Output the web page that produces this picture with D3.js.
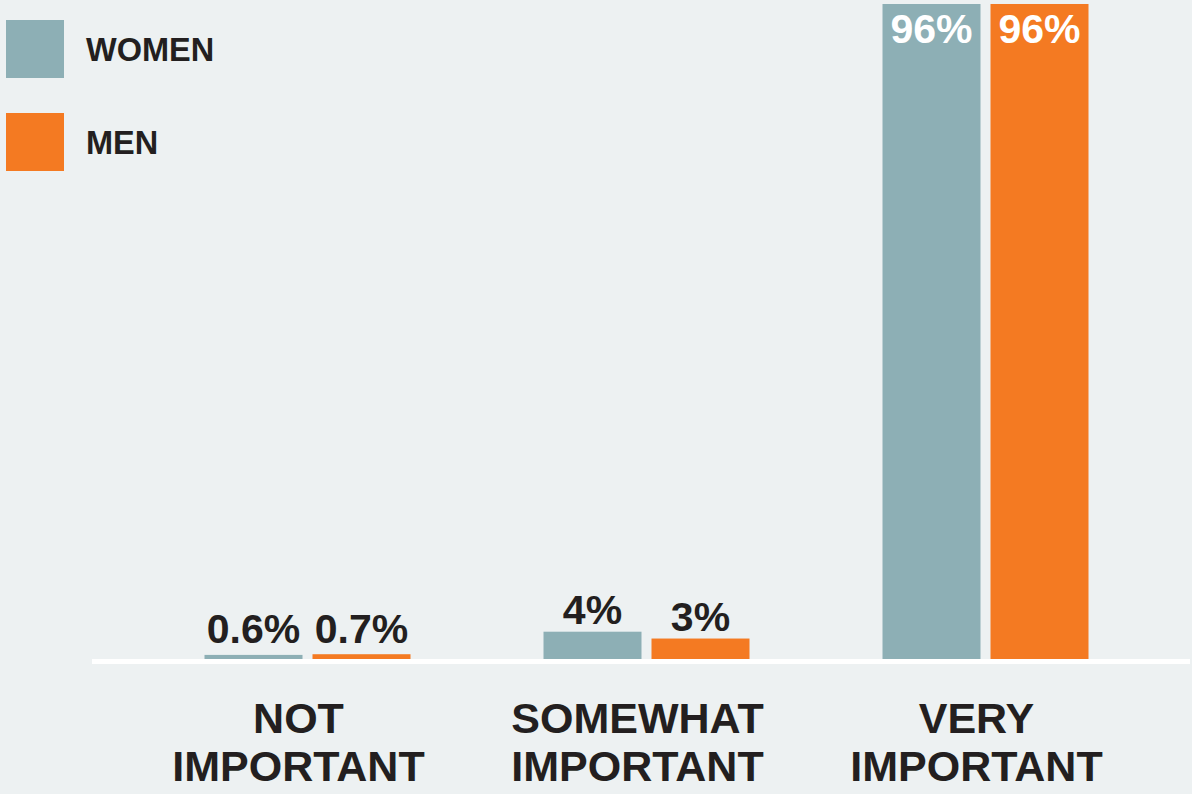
<!DOCTYPE html>
<html>
<head>
<meta charset="utf-8">
<script src="https://cdn.jsdelivr.net/npm/d3@7"></script>
<style>
  html, body { margin: 0; padding: 0; background: #EDF1F2; }
  svg { display: block; }
  text { font-family: "Liberation Sans", Arial, Helvetica, sans-serif; font-weight: bold; }
</style>
</head>
<body>
<svg id="chart" width="1192" height="794"></svg>
<script>
// Survey answers: how important, split by gender (percent)
const categories = [["NOT", "IMPORTANT"], ["SOMEWHAT", "IMPORTANT"], ["VERY", "IMPORTANT"]];
const seriesNames = ["WOMEN", "MEN"];
const women = [0.6, 4, 96];
const men = [0.7, 3, 96];
const valueLabels = {
  WOMEN: ["0.6%", "4%", "96%"],
  MEN: ["0.7%", "3%", "96%"]
};

const colors = { WOMEN: "#8DAFB5", MEN: "#F47A22" };
const ink = "#231F20";

const svg = d3.select("#chart");
const W = 1192, H = 794;
const baseY = 659;

svg.append("rect").attr("width", W).attr("height", H).attr("fill", "#EDF1F2");

const catKeys = categories.map(c => c.join(" "));

const x0 = d3.scaleBand()
  .domain(catKeys)
  .range([138, 1155])
  .paddingInner(0.392)
  .paddingOuter(0.196);

const x1 = d3.scaleBand()
  .domain(seriesNames)
  .range([0, 206])
  .paddingInner(10 / 108)
  .paddingOuter(0);

const y = d3.scaleLinear()
  .domain([0, 100])
  .range([baseY, baseY - 682.3]);

const rows = catKeys.map((k, i) => ({
  key: k,
  lines: categories[i],
  values: [
    { name: "WOMEN", v: women[i], label: valueLabels.WOMEN[i] },
    { name: "MEN", v: men[i], label: valueLabels.MEN[i] }
  ]
}));

const groupOffset = (x0.bandwidth() - 206) / 2;

const groups = svg.append("g").selectAll("g")
  .data(rows)
  .join("g")
  .attr("transform", d => `translate(${x0(d.key) + groupOffset},0)`);

groups.selectAll("rect")
  .data(d => d.values)
  .join("rect")
  .attr("x", d => x1(d.name))
  .attr("width", x1.bandwidth())
  .attr("y", d => y(d.v))
  .attr("height", d => baseY - y(d.v))
  .attr("fill", d => colors[d.name]);

// value labels: white inside tall bars, dark above short ones
groups.selectAll("text.val")
  .data(d => d.values)
  .join("text")
  .attr("class", "val")
  .attr("x", d => x1(d.name) + x1.bandwidth() / 2)
  .attr("y", d => {
    const top = y(d.v);
    if (baseY - top > 100) return top + 39;
    return Math.min(top - 8, baseY - 16);
  })
  .attr("text-anchor", "middle")
  .attr("font-size", 41)
  .attr("fill", d => (baseY - y(d.v) > 100 ? "#FFFFFF" : ink))
  .text(d => d.label);

// baseline
svg.append("rect")
  .attr("x", 92).attr("y", baseY)
  .attr("width", 1098).attr("height", 5)
  .attr("fill", "#FFFFFF");

// category labels under each group
const catLabels = svg.append("g").selectAll("text")
  .data(rows)
  .join("text")
  .attr("text-anchor", "middle")
  .attr("font-size", 43)
  .attr("fill", ink)
  .attr("transform", d => `translate(${x0(d.key) + x0.bandwidth() / 2 - 9},0)`);

catLabels.selectAll("tspan")
  .data(d => d.lines)
  .join("tspan")
  .attr("x", 0)
  .attr("y", (d, i) => 733 + i * 48)
  .text(d => d);

// legend
const legend = svg.append("g").selectAll("g")
  .data(seriesNames)
  .join("g")
  .attr("transform", (d, i) => `translate(6,${20 + i * 93})`);

legend.append("rect")
  .attr("width", 58).attr("height", 58)
  .attr("fill", d => colors[d]);

legend.append("text")
  .attr("x", 80).attr("y", 41)
  .attr("font-size", 32.5)
  .attr("fill", ink)
  .text(d => d);
</script>
</body>
</html>
